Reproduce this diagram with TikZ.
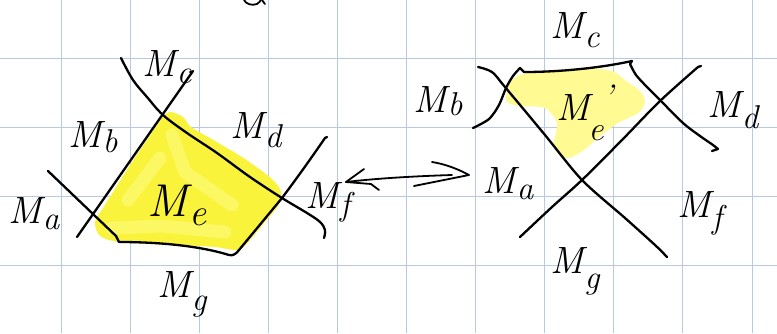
\documentclass[tikz,border=0pt]{standalone}
\begin{document}
\begin{tikzpicture}[x=1pt,y=-1pt,
  pen/.style={line width=2.3pt,line cap=round,line join=round,black},
  thinpen/.style={line width=1.8pt,line cap=round,line join=round,black},
  gridline/.style={line width=1pt,color={rgb,255:red,184;green,202;blue,226}},
  lab/.style={inner sep=0pt,font=\fontsize{38}{40}\selectfont\itshape},
  sublab/.style={inner sep=0pt,font=\fontsize{34}{36}\selectfont\itshape},
  biglab/.style={inner sep=0pt,font=\fontsize{46}{48}\selectfont\itshape}]
\definecolor{hlbright}{RGB}{250,243,60}
\definecolor{hllight}{RGB}{255,255,150}
\definecolor{hlpale}{RGB}{255,250,145}
\newcommand\msub[2]{M\kern1pt\raisebox{-#2}{\fontsize{33}{35}\selectfont #1}}

\useasboundingbox (0,0) rectangle (777,333);
\fill[white] (0,0) rectangle (777,333);

% squared paper
\foreach \gx in {61,130.1,199.2,268.3,337.4,406.5,475.6,544.7,613.8,682.9,752}
  \draw[gridline] (\gx,0) -- (\gx,333);
\foreach \gy in {58,127.3,196.6,265.9}
  \draw[gridline] (0,\gy) -- (777,\gy);

% tail of a letter cut by the top edge
\draw[thinpen] (244,0) .. controls (246,4) and (252,6) .. (257,4) .. controls (259,3) and (260,1) .. (261,0);
\draw[thinpen] (262,0) -- (265,4);

% ---------- left cell: highlighted face ----------
\fill[hlbright] plot[smooth cycle,tension=0.45] coordinates {
  (95,222) (105,205) (130,165) (155,128) (163,116) (171,112) (183,117)
  (191,127) (215,141) (245,159) (272,179) (281,192) (278,206) (264,223)
  (250,240) (238,250) (215,247) (180,245) (150,244) (118,242) (100,236)};
\draw[hllight,line width=13pt,line cap=round,line join=round,opacity=0.45]
  (112,228) -- (160,226) -- (225,232) (172,135) -- (185,172) -- (232,205)
  (128,200) -- (160,158);

% boundary lines of the left cell
\draw[pen] (77,237) -- (193,71) -- (191,74);
\draw[pen] (48,171) -- (116,236) -- (119,242)
  .. controls (160,242) and (200,246) .. (229,255)
  .. controls (233,256) and (236,254) .. (239,250)
  -- (282,198) .. controls (300,174) and (314,154) .. (325,138) -- (327,137);
\draw[pen] plot[smooth,tension=0.6] coordinates {
  (121,58) (133,80) (147,97) (163,115) (187,133) (217,153) (250,177)
  (282,198) (307,213) (320,222) (325,230) (324,238)};

% labels of the left cell
\node[lab] (lc) at (167,67) {\msub{c}{7pt}};
\node[lab] (lb) at (93,137) {\msub{b}{5pt}};
\node[lab] (ld) at (256,130) {\msub{d}{9pt}};
\node[lab] (la) at (34,214) {\msub{a}{6pt}};
\node[biglab] (le) at (177,205) {M\kern1pt\raisebox{-9pt}{\fontsize{38}{40}\selectfont e}};
\node[lab] (lf) at (328,202) {\msub{f}{7pt}};
\node[lab] (lg) at (182,294) {\msub{g}{13pt}};

% ---------- double arrow between the cells ----------
\coordinate (arL) at (346,182);
\coordinate (arR) at (469,175);
\draw[thinpen] (arL) .. controls (380,178) and (420,176) .. (452,175);
\draw[thinpen] (364,169) -- (arL) -- (371,184) -- (379,190);
\draw[thinpen] (432,162) .. controls (445,164) and (458,169) .. (arR) -- (414,186);

% ---------- right cell: highlighted face ----------
\fill[hlpale] plot[smooth cycle,tension=0.5] coordinates {
  (506,96) (511,81) (526,73) (555,70) (585,68) (612,71) (626,81) (640,91)
  (645,102) (638,113) (618,123) (600,136) (584,150) (569,158) (558,154)
  (554,143) (557,123) (545,108) (520,106) (508,103)};

\draw[pen] plot[smooth,tension=0.5] coordinates {
  (478,67) (492,72) (505,87) (545,135) (582,180) (625,218) (655,245) (667,257)};
\draw[pen] plot[smooth,tension=0.5] coordinates {
  (473,128) (489,119) (499,105) (506,88) (513,76) (520,68)} -- (524,72)
  .. controls (560,72) and (600,68) .. (632,61) -- (630,64);
\draw[pen] plot[smooth,tension=0.5] coordinates {
  (630,64) (636,75) (647,87) (660,100) (683,123) (700,136) (713,145) (718,149)}
  -- (712,151);
\draw[pen] plot[smooth,tension=0.5] coordinates {
  (520,237) (552,207) (582,180) (622,140) (660,101) (698,67)} -- (701,66);

% labels of the right cell
\node[lab] (rc) at (575,30) {\msub{c}{9pt}};
\node[lab] (rb) at (438,101) {\msub{b}{3pt}};
\node[lab] (re) at (573,108) {M};
\node[sublab] (ree) at (596,133) {e};
\node[sublab] (rep) at (608,97) {'};
\node[lab] (rd) at (733,110) {\msub{d}{11pt}};
\node[lab] (ra) at (508,184) {\msub{a}{6pt}};
\node[lab] (rf) at (700,213) {\msub{f}{11pt}};
\node[lab] (rg) at (575,271) {\msub{g}{15pt}};
\end{tikzpicture}
\end{document}
